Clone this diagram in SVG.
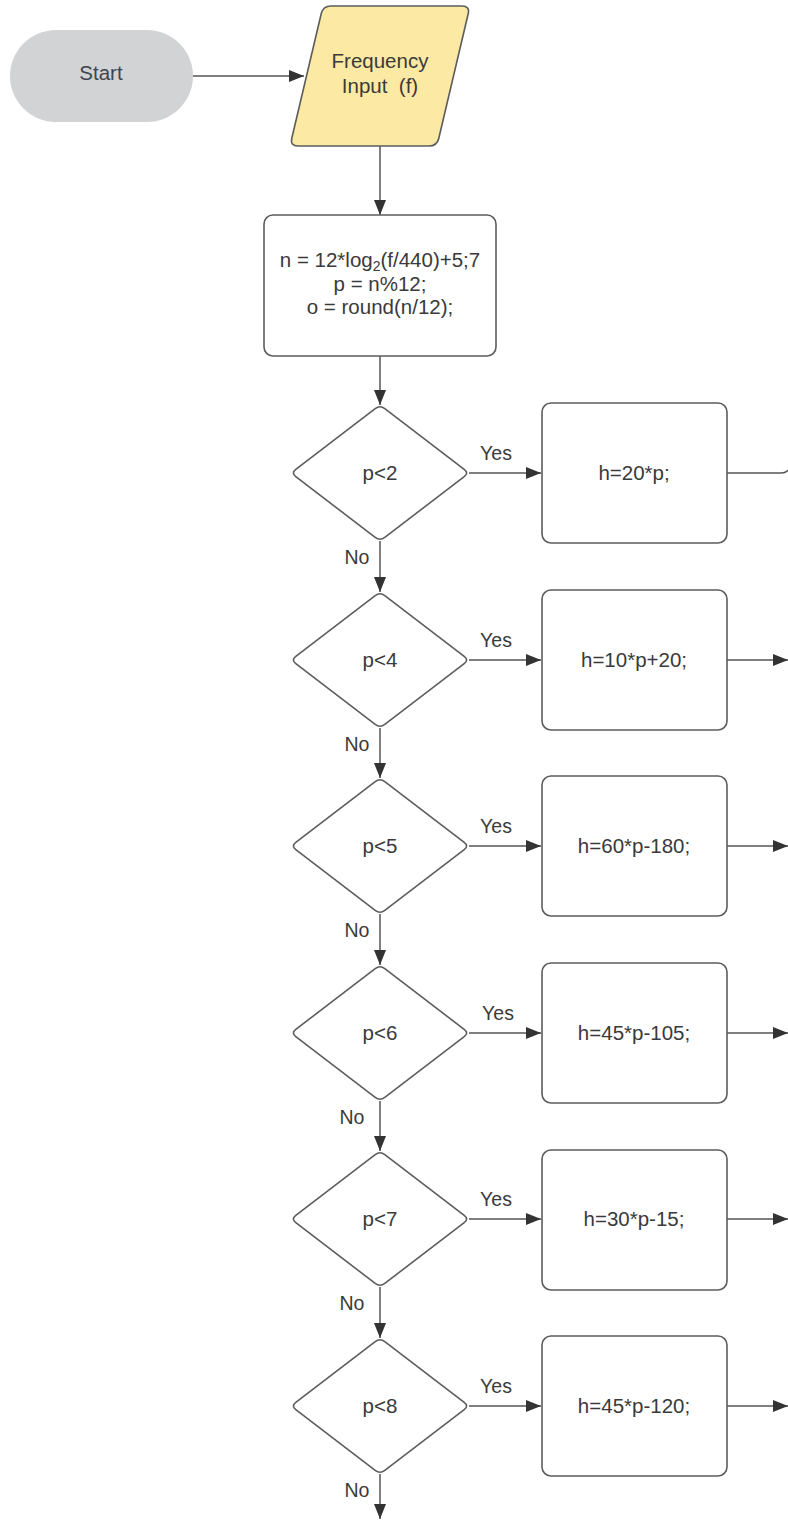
<svg xmlns="http://www.w3.org/2000/svg" xmlns:xlink="http://www.w3.org/1999/xlink" width="788" height="1520" viewBox="0 0 788 1520">
<style>
text{font-family:"Liberation Sans",Arial,sans-serif;font-size:20.5px;fill:#3a3a3a;text-anchor:middle}
.lbl{font-size:19.5px}
.shape{fill:#ffffff;stroke:#5c5c5c;stroke-width:1.6}
.conn{fill:none;stroke:#555555;stroke-width:1.5}
</style>
<defs>
<marker id="arr" viewBox="0 0 15 12" refX="15" refY="6" markerWidth="15" markerHeight="12" markerUnits="userSpaceOnUse" orient="auto">
<path d="M0,0 L15,6 L0,12 Z" fill="#333333"/>
</marker>
<path id="dia" d="M-4.8,-64.4 Q0,-68 4.8,-64.4 L84.2,-3.6 Q89,0 84.2,3.6 L4.8,64.4 Q0,68 -4.8,64.4 L-84.2,3.6 Q-89,0 -84.2,-3.6 Z"/>
</defs>
<rect width="788" height="1520" fill="#ffffff"/>

<g id="connectors">
<line class="conn" x1="193" y1="76" x2="304" y2="76" marker-end="url(#arr)"/>
<line class="conn" x1="380" y1="146" x2="380" y2="215" marker-end="url(#arr)"/>
<line class="conn" x1="380" y1="356" x2="380" y2="405" marker-end="url(#arr)"/>
<line class="conn" x1="469" y1="473" x2="541" y2="473" marker-end="url(#arr)"/>
<path class="conn" d="M727,473 H781 Q786,473 788,470"/>
<line class="conn" x1="380" y1="541" x2="380" y2="592" marker-end="url(#arr)"/>
<line class="conn" x1="469" y1="660" x2="541" y2="660" marker-end="url(#arr)"/>
<line class="conn" x1="727" y1="660" x2="788" y2="660" marker-end="url(#arr)"/>
<line class="conn" x1="380" y1="728" x2="380" y2="778" marker-end="url(#arr)"/>
<line class="conn" x1="469" y1="846" x2="541" y2="846" marker-end="url(#arr)"/>
<line class="conn" x1="727" y1="846" x2="788" y2="846" marker-end="url(#arr)"/>
<line class="conn" x1="380" y1="914" x2="380" y2="965" marker-end="url(#arr)"/>
<line class="conn" x1="469" y1="1033" x2="541" y2="1033" marker-end="url(#arr)"/>
<line class="conn" x1="727" y1="1033" x2="788" y2="1033" marker-end="url(#arr)"/>
<line class="conn" x1="380" y1="1101" x2="380" y2="1151" marker-end="url(#arr)"/>
<line class="conn" x1="469" y1="1219" x2="541" y2="1219" marker-end="url(#arr)"/>
<line class="conn" x1="727" y1="1219" x2="788" y2="1219" marker-end="url(#arr)"/>
<line class="conn" x1="380" y1="1287" x2="380" y2="1338" marker-end="url(#arr)"/>
<line class="conn" x1="469" y1="1406" x2="541" y2="1406" marker-end="url(#arr)"/>
<line class="conn" x1="727" y1="1406" x2="788" y2="1406" marker-end="url(#arr)"/>
<line class="conn" x1="380" y1="1474" x2="380" y2="1519" marker-end="url(#arr)"/>
<text class="lbl" x="496" y="460">Yes</text>
<text class="lbl" x="357" y="564">No</text>
<text class="lbl" x="496" y="647">Yes</text>
<text class="lbl" x="357" y="751">No</text>
<text class="lbl" x="496" y="833">Yes</text>
<text class="lbl" x="357" y="937">No</text>
<text class="lbl" x="498" y="1020">Yes</text>
<text class="lbl" x="352" y="1124">No</text>
<text class="lbl" x="496" y="1206">Yes</text>
<text class="lbl" x="352" y="1310">No</text>
<text class="lbl" x="496" y="1393">Yes</text>
<text class="lbl" x="357" y="1497">No</text>
</g>

<g id="start">
<rect x="10" y="30" width="183" height="92" rx="46" fill="#d2d3d5"/>
<text x="101" y="80" style="fill:#3d4552">Start</text>
</g>

<g id="input">
<path d="M331,6 H462 Q470,6 468.2,13.8 L438.8,138.2 Q437,146 429,146 H298 Q290,146 291.8,138.2 L321.2,13.8 Q323,6 331,6 Z" fill="#fce9a3" stroke="#5c5c5c" stroke-width="1.6"/>
<text x="380" y="68">Frequency</text>
<text x="380" y="93" style="white-space:pre">Input  (f)</text>
</g>

<g id="compute">
<rect class="shape" x="264" y="215" width="232" height="141" rx="9"/>
<text x="380" y="267">n = 12*log<tspan font-size="14" dy="4">2</tspan><tspan dy="-4">(f/440)+5;7</tspan></text>
<text x="380" y="291">p = n%12;</text>
<text x="380" y="314">o = round(n/12);</text>
</g>

<g id="d1"><use href="#dia" x="380" y="473" class="shape"/><text x="380" y="480">p&lt;2</text></g>
<g id="b1"><rect class="shape" x="542" y="403" width="185" height="140" rx="9"/><text x="634" y="480">h=20*p;</text></g>

<g id="d2"><use href="#dia" x="380" y="660" class="shape"/><text x="380" y="667">p&lt;4</text></g>
<g id="b2"><rect class="shape" x="542" y="590" width="185" height="140" rx="9"/><text x="634" y="667">h=10*p+20;</text></g>

<g id="d3"><use href="#dia" x="380" y="846" class="shape"/><text x="380" y="853">p&lt;5</text></g>
<g id="b3"><rect class="shape" x="542" y="776" width="185" height="140" rx="9"/><text x="634" y="853">h=60*p-180;</text></g>

<g id="d4"><use href="#dia" x="380" y="1033" class="shape"/><text x="380" y="1040">p&lt;6</text></g>
<g id="b4"><rect class="shape" x="542" y="963" width="185" height="140" rx="9"/><text x="634" y="1040">h=45*p-105;</text></g>

<g id="d5"><use href="#dia" x="380" y="1219" class="shape"/><text x="380" y="1226">p&lt;7</text></g>
<g id="b5"><rect class="shape" x="542" y="1150" width="185" height="140" rx="9"/><text x="634" y="1226">h=30*p-15;</text></g>

<g id="d6"><use href="#dia" x="380" y="1406" class="shape"/><text x="380" y="1413">p&lt;8</text></g>
<g id="b6"><rect class="shape" x="542" y="1336" width="185" height="140" rx="9"/><text x="634" y="1413">h=45*p-120;</text></g>
</svg>
